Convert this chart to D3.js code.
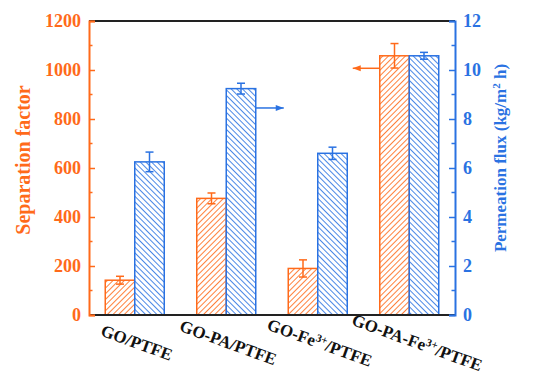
<!DOCTYPE html>
<html lang="en">
<head>
<meta charset="UTF-8">
<title>Separation factor and permeation flux</title>
<script src="https://cdnjs.cloudflare.com/ajax/libs/d3/7.8.5/d3.min.js"></script>
<style>
  body { margin: 0; background: #fff; }
  svg { display: block; }
  text { font-family: "Liberation Serif", "Times New Roman", serif; font-weight: bold; }
</style>
</head>
<body>
<svg id="chart" width="535" height="385"></svg>
<script>
// membranes
const membranes = ["GO/PTFE", "GO-PA/PTFE", "GO-Fe3+/PTFE", "GO-PA-Fe3+/PTFE"];
// separation factor (left axis)
const sepFactor = [142, 476, 190, 1058];
const sepErr = [16, 22, 35, 50];
// permeation flux, kg/m2 h (right axis)
const flux = [6.25, 9.24, 6.6, 10.58];
const fluxErr = [0.4, 0.22, 0.25, 0.14];
const leftTicks = [0, 200, 400, 600, 800, 1000, 1200];
const rightTicks = [0, 2, 4, 6, 8, 10, 12];

const orange = "#ff6a1a", blue = "#2a72e2";
const margin = { top: 21, right: 80, bottom: 70, left: 89 };
const W = 535, H = 385;
const width = W - margin.left - margin.right;   // 366
const height = H - margin.top - margin.bottom;  // 294

const svg = d3.select("#chart");
const defs = svg.append("defs");

function hatch(id, color, angle) {
  const p = defs.append("pattern")
    .attr("id", id)
    .attr("patternUnits", "userSpaceOnUse")
    .attr("width", 4).attr("height", 4)
    .attr("patternTransform", `rotate(${angle})`);
  p.append("rect").attr("width", 4).attr("height", 4).attr("fill", "#fff");
  p.append("line").attr("x1", 0).attr("y1", 0).attr("x2", 0).attr("y2", 4)
    .attr("stroke", color).attr("stroke-width", 1.7);
}
hatch("hatchO", orange, 45);
hatch("hatchB", blue, -45);

const g = svg.append("g").attr("transform", `translate(${margin.left},${margin.top})`);

const x = d3.scaleBand().domain(membranes).range([0, width]).padding(0);
const barW = 29.5;
const yL = d3.scaleLinear().domain([0, 1200]).range([height, 0]);
const yR = d3.scaleLinear().domain([0, 12]).range([height, 0]);

const rows = membranes.map((m, i) => ({ m, s: sepFactor[i], se: sepErr[i], f: flux[i], fe: fluxErr[i] }));

// bars
g.selectAll(".barO").data(rows).join("rect")
  .attr("x", d => x(d.m) + x.bandwidth() / 2 - barW)
  .attr("y", d => yL(d.s))
  .attr("width", barW)
  .attr("height", d => height - yL(d.s))
  .attr("fill", "url(#hatchO)")
  .attr("stroke", orange).attr("stroke-width", 1.5);

g.selectAll(".barB").data(rows).join("rect")
  .attr("x", d => x(d.m) + x.bandwidth() / 2)
  .attr("y", d => yR(d.f))
  .attr("width", barW)
  .attr("height", d => height - yR(d.f))
  .attr("fill", "url(#hatchB)")
  .attr("stroke", blue).attr("stroke-width", 1.5);

// error bars
function errBars(cx, y, val, err, color) {
  const eg = g.append("g").attr("stroke", color).attr("stroke-width", 1.5);
  rows.forEach(d => {
    const c = cx(d);
    eg.append("line").attr("x1", c).attr("x2", c).attr("y1", y(val(d) - err(d))).attr("y2", y(val(d) + err(d)));
    [val(d) - err(d), val(d) + err(d)].forEach(v =>
      eg.append("line").attr("x1", c - 4).attr("x2", c + 4).attr("y1", y(v)).attr("y2", y(v)));
  });
}
errBars(d => x(d.m) + x.bandwidth() / 2 - barW / 2, yL, d => d.s, d => d.se, orange);
errBars(d => x(d.m) + x.bandwidth() / 2 + barW / 2, yR, d => d.f, d => d.fe, blue);

// arrows
function arrow(x1, x2, y, color) {
  g.append("line").attr("x1", x1).attr("x2", x2).attr("y1", y).attr("y2", y)
    .attr("stroke", color).attr("stroke-width", 1.5);
  const dir = Math.sign(x2 - x1);
  g.append("path")
    .attr("d", `M${x2},${y} L${x2 - dir * 8},${y - 3} L${x2 - dir * 8},${y + 3} Z`)
    .attr("fill", color);
}
const b2 = membranes[1], b4 = membranes[3];
arrow(x(b2) + x.bandwidth() / 2 + barW, x(b2) + x.bandwidth() / 2 + barW + 28, yR(8.45), blue);
arrow(x(b4) + x.bandwidth() / 2 - barW, x(b4) + x.bandwidth() / 2 - barW - 27, yL(1007), orange);

// frame: top and bottom black
g.append("line").attr("x1", 0).attr("x2", width).attr("y1", 0).attr("y2", 0)
  .attr("stroke", "#222").attr("stroke-width", 2);
g.append("line").attr("x1", 0).attr("x2", width).attr("y1", height).attr("y2", height)
  .attr("stroke", "#222").attr("stroke-width", 2);

// left axis
const minorL = d3.range(100, 1200, 200);
const axL = g.append("g").attr("color", orange)
  .call(d3.axisLeft(yL).tickValues(leftTicks).tickSize(-6).tickPadding(8).tickFormat(d3.format("d")));
axL.select(".domain").attr("stroke-width", 2);
axL.selectAll(".tick line").attr("stroke-width", 1.5);
axL.selectAll("text").attr("font-size", 18).attr("font-family", null).attr("fill", orange);
g.append("g").selectAll("line").data(minorL).join("line")
  .attr("x1", 0).attr("x2", 3.5).attr("y1", d => yL(d)).attr("y2", d => yL(d))
  .attr("stroke", orange).attr("stroke-width", 1.5);

// right axis
const minorR = d3.range(1, 12, 2);
const axR = g.append("g").attr("transform", `translate(${width},0)`).attr("color", blue)
  .call(d3.axisRight(yR).tickValues(rightTicks).tickSize(-6).tickPadding(8));
axR.select(".domain").attr("stroke-width", 2);
axR.selectAll(".tick line").attr("stroke-width", 1.5);
axR.selectAll("text").attr("font-size", 18).attr("font-family", null).attr("fill", blue);
g.append("g").selectAll("line").data(minorR).join("line")
  .attr("x1", width).attr("x2", width - 3.5).attr("y1", d => yR(d)).attr("y2", d => yR(d))
  .attr("stroke", blue).attr("stroke-width", 1.5);

// axis titles
svg.append("text")
  .attr("transform", `translate(30,160) rotate(-90)`)
  .attr("text-anchor", "middle").attr("font-size", 20).attr("fill", orange)
  .text("Separation factor");

const rt = svg.append("text")
  .attr("transform", `translate(506,158) rotate(-90)`)
  .attr("text-anchor", "middle").attr("font-size", 17).attr("fill", blue);
rt.append("tspan").text("Permeation flux (kg/m");
rt.append("tspan").attr("dy", -6).attr("font-size", 11).text("2");
rt.append("tspan").attr("dy", 6).text(" h)");

// x category labels, tilted
const lab = g.append("g").selectAll("text").data(membranes).join("text")
  .attr("transform", (d, i) => `translate(${x(d) + x.bandwidth() / 2 + (i === 3 ? 6 : 0)},${height + 33}) rotate(20)`)
  .attr("text-anchor", "middle").attr("font-size", 17).attr("fill", "#111");
lab.each(function (d) {
  const t = d3.select(this);
  const parts = d.split("3+");
  if (parts.length === 1) { t.text(d); return; }
  t.append("tspan").text(parts[0]);
  t.append("tspan").attr("dy", -6).attr("font-size", 11).text("3+");
  t.append("tspan").attr("dy", 6).text(parts[1]);
});
</script>
</body>
</html>
